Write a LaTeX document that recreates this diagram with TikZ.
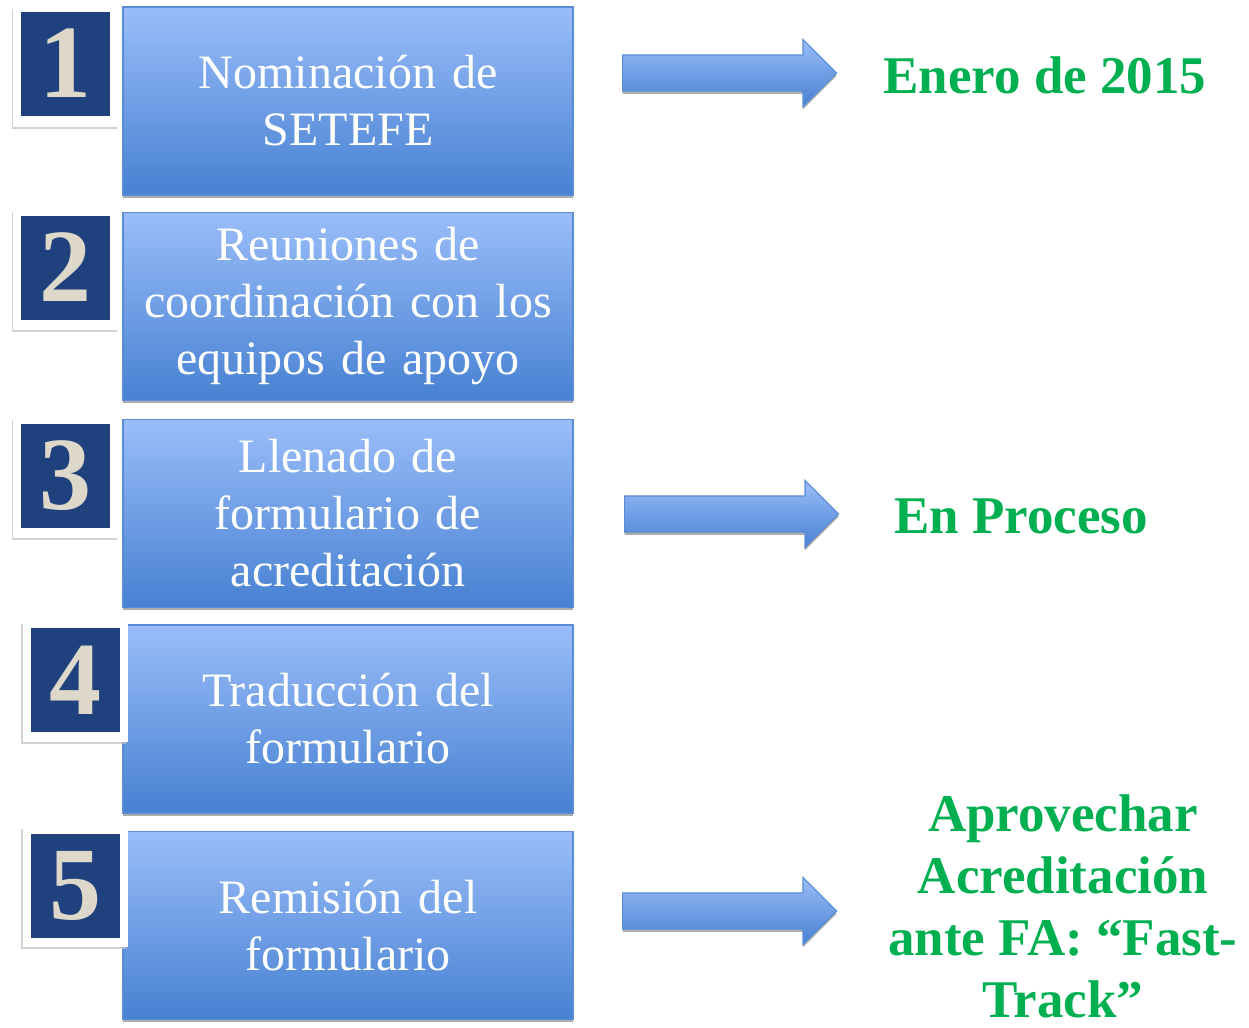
\documentclass[tikz,border=0pt]{standalone}
\usepackage{fontspec}
\setmainfont{Liberation Serif}
\usetikzlibrary{positioning,shapes.arrows,shadows}
\definecolor{boxtop}{HTML}{9ABDF9}
\definecolor{boxbot}{HTML}{4781D2}
\definecolor{boxline}{HTML}{5B8DD6}
\definecolor{numblue}{HTML}{1F427E}
\definecolor{numface}{HTML}{DDD8CA}
\definecolor{stgreen}{HTML}{00B050}
\tikzset{
  stepbox/.style={rectangle,draw=boxline,line width=0.6pt,top color=boxtop,bottom color=boxbot,
    minimum width=225pt,minimum height=94pt,text width=215pt,align=center,inner sep=0pt,
    text=white,font=\fontsize{24}{28.5}\selectfont,
    drop shadow={shadow xshift=0pt,shadow yshift=-1.4pt,fill=gray!80,opacity=.8}},
  numframe/.style={rectangle,fill=white,minimum width=52.5pt,minimum height=60pt,inner sep=0pt,
    drop shadow={shadow xshift=-0.7pt,shadow yshift=-1.1pt,fill=gray!50,opacity=.7}},
  numbox/.style={rectangle,fill=numblue,minimum width=44.5pt,minimum height=52pt,inner sep=0pt,
    text=numface,font=\bfseries\fontsize{52}{52}\selectfont},
  blockarrow/.style={single arrow,draw=boxline,line width=0.6pt,top color=boxtop,bottom color=boxbot,
    minimum height=107pt,minimum width=33pt,text height=0pt,text depth=0pt,
    inner xsep=0pt,inner ysep=8.75pt,single arrow head extend=7.75pt,anchor=west,
    drop shadow={shadow xshift=0pt,shadow yshift=-1.4pt,fill=gray!80,opacity=.8}},
  statustext/.style={text=stgreen,font=\bfseries\fontsize{26.5}{31}\selectfont,align=center,inner sep=0pt}
}
\begin{document}
\begin{tikzpicture}[x=0.5pt,y=-0.5pt]
\useasboundingbox (0,0) rectangle (1249,1028);
% steps
\node[stepbox] (s1) at (348,101)   {Nominación de\\SETEFE};
\node[stepbox] (s2) at (348,306.5) {Reuniones de\\coordinación con los\\equipos de apoyo};
\node[stepbox] (s3) at (348,513.5) {Llenado de\\formulario de\\acreditación};
\node[stepbox] (s4) at (348,719)   {Traducción del\\formulario};
\node[stepbox] (s5) at (348,925.5) {Remisión del\\formulario};
% numbers
\node[numframe] (f1) at (65.5,67) {};
\node[numbox] (n1) at (65.5,63.5) {1};
\node[numframe] (f2) at (65.5,270) {};
\node[numbox] (n2) at (65.5,267.5) {2};
\node[numframe] (f3) at (65.5,478) {};
\node[numbox] (n3) at (65.5,475.5) {3};
\node[numframe] (f4) at (75,682) {};
\node[numbox] (n4) at (75,680) {4};
\node[numframe] (f5) at (75,887) {};
\node[numbox] (n5) at (75,885.5) {5};
% arrows and status
\node[blockarrow] (a1) at (622,73)  {};
\node[blockarrow] (a3) at (624,514) {};
\node[blockarrow] (a5) at (622,911) {};
\node[statustext] (t1) at (1045,75)  {Enero de 2015};
\node[statustext] (t3) at (1021,516) {En Proceso};
\node[statustext] (t5) at (1063,906) {Aprovechar\\Acreditación\\ante FA: “Fast-\\Track”};
\end{tikzpicture}
\end{document}
